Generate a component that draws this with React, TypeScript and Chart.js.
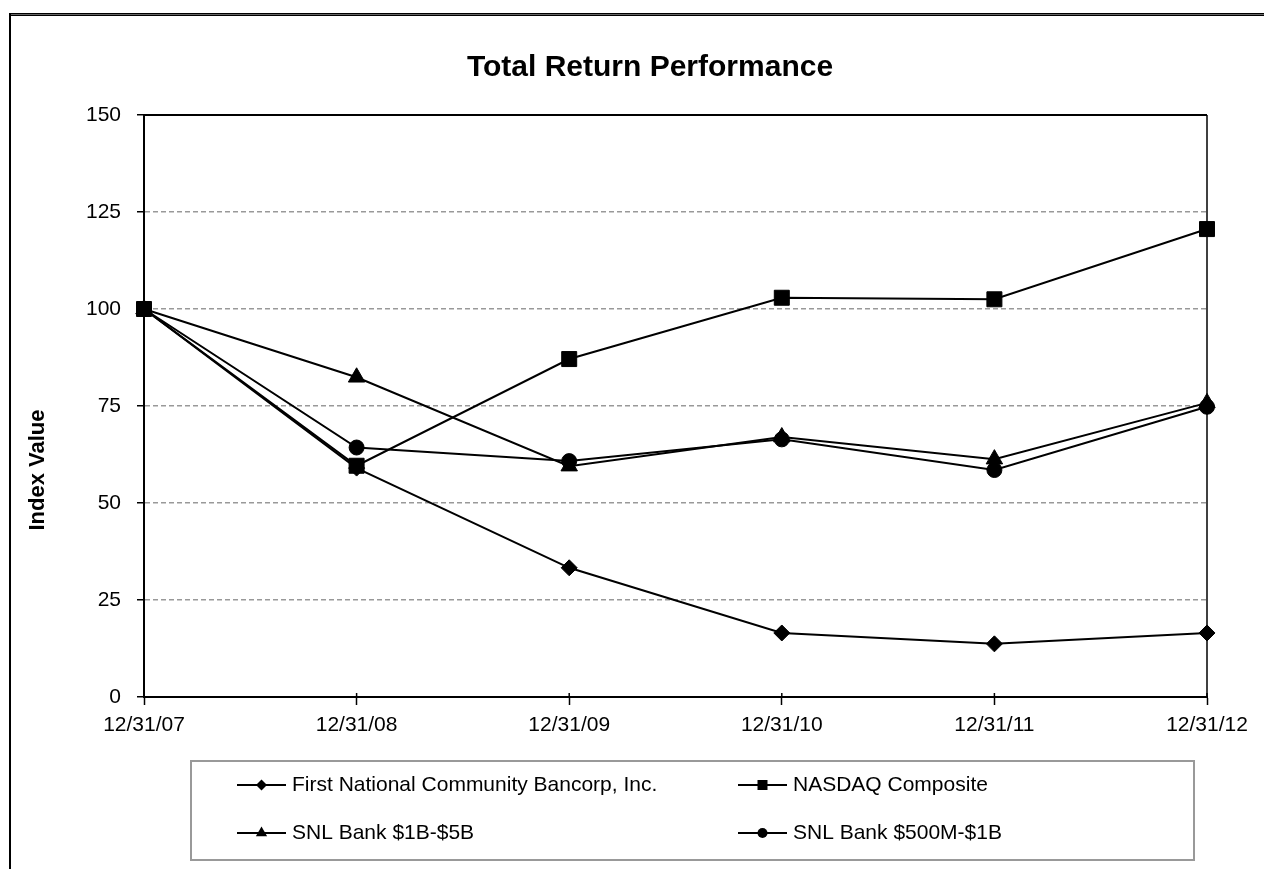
import React, { useEffect, useRef } from 'react';
import { Chart, registerables } from 'chart.js';

Chart.register(...registerables);

// ---------- data ----------
const categories = ['12/31/07', '12/31/08', '12/31/09', '12/31/10', '12/31/11', '12/31/12'];
const fncbValues = [100, 59.0, 33.3, 16.5, 13.7, 16.5];
const nasdaqValues = [100, 59.6, 87.1, 102.9, 102.5, 120.6];
const snl1b5bValues = [100, 82.4, 59.5, 67.0, 61.3, 75.8];
const snl500m1bValues = [100, 64.3, 60.8, 66.4, 58.5, 74.8];
const seriesNames = [
  'First National Community Bancorp, Inc.',
  'NASDAQ Composite',
  'SNL Bank $1B-$5B',
  'SNL Bank $500M-$1B',
];
const yMin = 0;
const yMax = 150;
const yStep = 25;
const chartTitle = 'Total Return Performance';
const yAxisTitle = 'Index Value';

// ---------- styles ----------
const FONT = '"Liberation Sans", Arial, Helvetica, sans-serif';
const W = 1264;
const H = 869;

const pointStyles = ['rectRot', 'rect', 'triangle', 'circle'];
const pointRadii = [8, 10.6, 9.5, 7.5];
const legendShapeSizes = [5.5, 5, 6.5, 5];

function drawShape(ctx: CanvasRenderingContext2D, style: string, x: number, y: number, r: number) {
  ctx.beginPath();
  if (style === 'rectRot') {
    ctx.moveTo(x - r, y);
    ctx.lineTo(x, y - r);
    ctx.lineTo(x + r, y);
    ctx.lineTo(x, y + r);
    ctx.closePath();
  } else if (style === 'rect') {
    ctx.rect(x - r, y - r, 2 * r, 2 * r);
  } else if (style === 'triangle') {
    for (let k = 0; k < 3; k++) {
      const a = (k * 2 * Math.PI) / 3;
      const px = x + Math.sin(a) * r;
      const py = y - Math.cos(a) * r;
      if (k === 0) ctx.moveTo(px, py);
      else ctx.lineTo(px, py);
    }
    ctx.closePath();
  } else {
    ctx.arc(x, y, r, 0, Math.PI * 2);
  }
  ctx.fill();
}

const framePlugin = {
  id: 'frameAndText',
  beforeDraw(chart: any) {
    const ctx = chart.ctx as CanvasRenderingContext2D;
    ctx.save();
    ctx.fillStyle = '#ffffff';
    ctx.fillRect(0, 0, chart.width, chart.height);
    // outer frame (top double line, left line)
    ctx.fillStyle = '#000';
    ctx.fillRect(9, 13, chart.width, 1);
    ctx.fillRect(9, 15, chart.width, 1);
    ctx.fillStyle = '#666';
    ctx.fillRect(9, 14, chart.width, 1);
    ctx.fillStyle = '#000';
    ctx.fillRect(9, 13, 2, chart.height);
    ctx.restore();
  },
  beforeDatasetsDraw(chart: any) {
    const ctx = chart.ctx as CanvasRenderingContext2D;
    const { left, right, top, bottom } = chart.chartArea;
    ctx.save();
    ctx.strokeStyle = '#000';
    ctx.lineWidth = 2;
    ctx.beginPath();
    ctx.moveTo(left, top);
    ctx.lineTo(right, top);
    ctx.stroke();
    ctx.lineWidth = 1.5;
    ctx.beginPath();
    ctx.moveTo(right, top);
    ctx.lineTo(right, bottom);
    ctx.stroke();
    // x ticks crossing into plot
    const xs = chart.scales.x;
    ctx.lineWidth = 1.5;
    for (let i = 0; i < categories.length; i++) {
      const px = xs.getPixelForTick(i);
      ctx.beginPath();
      ctx.moveTo(px, bottom - 4);
      ctx.lineTo(px, bottom);
      ctx.stroke();
    }
    ctx.restore();
  },
  afterDraw(chart: any) {
    const ctx = chart.ctx as CanvasRenderingContext2D;
    const { left, right } = chart.chartArea;
    ctx.save();
    ctx.fillStyle = '#000';
    // title
    ctx.font = `bold 30px ${FONT}`;
    ctx.textAlign = 'center';
    ctx.textBaseline = 'alphabetic';
    ctx.fillText(chartTitle, 650, 76);
    // y axis title
    ctx.save();
    ctx.translate(38, 470);
    ctx.rotate(-Math.PI / 2);
    ctx.font = `bold 22px ${FONT}`;
    ctx.textAlign = 'center';
    ctx.textBaseline = 'middle';
    ctx.fillText(yAxisTitle, 0, 0);
    ctx.restore();

    // legend box
    const boxL = 191, boxT = 761, boxR = 1194, boxB = 860;
    ctx.strokeStyle = '#999';
    ctx.lineWidth = 2;
    ctx.strokeRect(boxL, boxT, boxR - boxL, boxB - boxT);
    const colX = [237, 738];
    const rowY = [785, 833];
    chart.data.datasets.forEach((ds: any, i: number) => {
      const lx = colX[i % 2];
      const ly = rowY[Math.floor(i / 2)];
      ctx.strokeStyle = '#000';
      ctx.lineWidth = 2;
      ctx.beginPath();
      ctx.moveTo(lx, ly);
      ctx.lineTo(lx + 49, ly);
      ctx.stroke();
      ctx.fillStyle = '#000';
      drawShape(ctx, pointStyles[i], lx + 24.5, ly, legendShapeSizes[i]);
      ctx.font = `21px ${FONT}`;
      ctx.textAlign = 'left';
      ctx.textBaseline = 'middle';
      ctx.fillText(ds.label, lx + 55, ly);
    });
    ctx.restore();
  },
};

export default function App() {
  const canvasRef = useRef<HTMLCanvasElement | null>(null);

  useEffect(() => {
    const canvas = canvasRef.current;
    if (!canvas) return;
    const seriesValues = [fncbValues, nasdaqValues, snl1b5bValues, snl500m1bValues];
    const chart = new Chart(canvas, {
      type: 'line',
      data: {
        labels: categories,
        datasets: seriesValues.map((vals, i) => ({
          label: seriesNames[i],
          data: vals,
          borderColor: '#000',
          backgroundColor: '#000',
          borderWidth: 2,
          pointStyle: pointStyles[i] as any,
          pointRadius: pointRadii[i],
          pointBorderWidth: 1,
          pointBackgroundColor: '#000',
          pointBorderColor: '#000',
          tension: 0,
          fill: false,
          order: 4 - i,
        })),
      },
      options: {
        responsive: false,
        animation: false,
        devicePixelRatio: 1,
        layout: { padding: { top: 115, right: 57, bottom: 0, left: 0 } },
        plugins: {
          legend: { display: false },
          title: { display: false },
          tooltip: { enabled: false },
        },
        scales: {
          x: {
            type: 'category',
            offset: false,
            grid: {
              display: true,
              drawOnChartArea: false,
              drawTicks: true,
              tickLength: 8,
              tickColor: '#000',
              tickWidth: 1.5,
            },
            border: { display: true, color: '#000', width: 2 },
            ticks: {
              color: '#000',
              font: { family: FONT, size: 21 },
              padding: 8,
              maxRotation: 0,
              autoSkip: false,
            },
            afterFit: (scale: any) => {
              scale.height = H - 697;
            },
          },
          y: {
            min: yMin,
            max: yMax,
            grid: {
              display: true,
              drawOnChartArea: true,
              drawTicks: true,
              tickLength: 7,
              tickColor: '#000',
              tickWidth: 1.5,
              lineWidth: 1.5,
              color: (c: any) => (c.tick && c.tick.value === 0 ? 'rgba(0,0,0,0)' : '#999'),
            },
            border: { display: true, color: '#000', width: 2, dash: [5, 3] },
            ticks: {
              stepSize: yStep,
              color: '#000',
              font: { family: FONT, size: 21 },
              padding: 16,
            },
            afterFit: (scale: any) => {
              scale.width = 144;
            },
          },
        },
      },
      plugins: [framePlugin],
    });
    return () => chart.destroy();
  }, []);

  return (
    <div style={{ position: 'fixed', left: 0, top: 0, width: W, height: H, background: '#fff' }}>
      <canvas ref={canvasRef} width={W} height={H} style={{ width: W, height: H, display: 'block' }} />
    </div>
  );
}
